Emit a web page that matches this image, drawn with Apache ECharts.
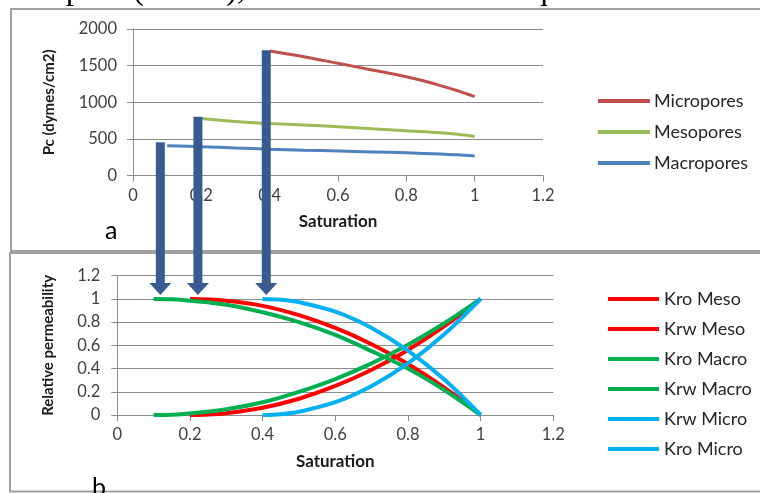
<!DOCTYPE html>
<html>
<head>
<meta charset="utf-8">
<script src="https://cdn.jsdelivr.net/npm/echarts@6/dist/echarts.min.js"></script>
<style>
  html, body { margin: 0; padding: 0; background: #fff; }
  #chart { width: 760px; height: 493px; }
</style>
</head>
<body>
<div id="chart"></div>
<script>
// ---- Panel a: capillary pressure vs saturation ----
const pcMicroSat = [0.4, 0.5, 0.6, 0.7, 0.8, 0.85, 0.9, 0.95, 0.98, 0.99, 1.0];
const pcMicro    = [1700, 1623, 1532, 1442, 1350, 1295, 1228, 1158, 1110, 1095, 1077];
const pcMesoSat  = [0.2, 0.3, 0.4, 0.5, 0.6, 0.7, 0.8, 0.9, 0.95, 1.0];
const pcMeso     = [780, 740, 712, 690, 668, 640, 612, 585, 565, 535];
const pcMacroSat = [0.1, 0.2, 0.3, 0.4, 0.5, 0.6, 0.7, 0.8, 0.9, 0.95, 1.0];
const pcMacro    = [410, 395, 378, 362, 348, 336, 324, 312, 295, 285, 268];

// ---- Panel b: relative permeability vs saturation ----
const krMacroSat = [0.1, 0.15, 0.2, 0.3, 0.4, 0.5, 0.6, 0.7, 0.8, 0.9, 1.0];
const kroMacro   = [1.0, 0.997, 0.985, 0.95, 0.885, 0.8, 0.69, 0.55, 0.4, 0.215, 0];
const krwMacro   = [0, 0.003, 0.013, 0.05, 0.11, 0.2, 0.31, 0.445, 0.605, 0.79, 1.0];
const krMesoSat  = [0.2, 0.25, 0.3, 0.4, 0.5, 0.6, 0.7, 0.8, 0.9, 1.0];
const kroMeso    = [1.0, 0.996, 0.985, 0.94, 0.86, 0.75, 0.61, 0.44, 0.235, 0];
const krwMeso    = [0, 0.004, 0.016, 0.063, 0.14, 0.25, 0.39, 0.56, 0.765, 1.0];
const krMicroSat = [0.4, 0.45, 0.5, 0.6, 0.7, 0.8, 0.9, 1.0];
const kroMicro   = [1.0, 0.993, 0.972, 0.89, 0.75, 0.555, 0.305, 0];
const krwMicro   = [0, 0.007, 0.028, 0.11, 0.25, 0.445, 0.695, 1.0];

// Arrows: irreducible saturation of each pore class, from the Pc curve down to Kr = 1
const arrowSat = [0.08, 0.19, 0.39];
const arrowPc  = [455, 805, 1710];

const headerText = 'f the pore (macro), there would be subsequent decreases in';

const pair = (xs, ys) => xs.map((x, i) => [x, ys[i]]);

const FONT = 'Lato, "Open Sans", sans-serif';
const GRID_LINE = '#8c8c8c';
const LABEL_COLOR = '#404040';
const plain = v => String(v);

function xAxisCfg(gridIndex, fontSize, margin, nameGap) {
  return {
    type: 'value', gridIndex, min: 0, max: 1.2, interval: 0.2,
    name: 'Saturation', nameLocation: 'middle', nameGap,
    nameTextStyle: { fontFamily: FONT, fontWeight: 'bold', fontSize: 17, color: '#1a1a1a' },
    axisLine: { show: true, lineStyle: { color: GRID_LINE, width: 1 } },
    axisTick: { show: true, length: 6, lineStyle: { color: GRID_LINE } },
    axisLabel: { fontFamily: FONT, fontSize, color: LABEL_COLOR, margin, formatter: plain },
    splitLine: { show: false }
  };
}
function yAxisCfg(gridIndex, max, interval, name, fontSize, margin, nameGap) {
  return {
    type: 'value', gridIndex, min: 0, max, interval,
    name, nameLocation: 'middle', nameGap, nameRotate: 90,
    nameTextStyle: { fontFamily: FONT, fontWeight: 'bold', fontSize: 15, color: '#1a1a1a' },
    axisLine: { show: true, lineStyle: { color: GRID_LINE, width: 1 } },
    axisTick: { show: true, length: 6, lineStyle: { color: GRID_LINE } },
    axisLabel: { fontFamily: FONT, fontSize, color: LABEL_COLOR, margin, formatter: plain },
    splitLine: { show: true, lineStyle: { color: GRID_LINE, width: 1 } }
  };
}
function lineSeries(name, data, color, width, xi, yi) {
  return {
    type: 'line', name, data, xAxisIndex: xi, yAxisIndex: yi,
    smooth: 0.35, symbol: 'none', showSymbol: false,
    lineStyle: { color, width }, itemStyle: { color },
    emphasis: { disabled: true }, animation: false
  };
}

const chart = echarts.init(document.getElementById('chart'), null, { renderer: 'canvas' });

const option = {
  backgroundColor: '#ffffff',
  animation: false,
  grid: [
    { left: 133, top: 29, width: 410, height: 146.7, containLabel: false },
    { left: 117.3, top: 275.7, width: 436, height: 139.3, containLabel: false }
  ],
  xAxis: [ xAxisCfg(0, 16.5, 11, 37), xAxisCfg(1, 16.5, 11, 38) ],
  yAxis: [
    yAxisCfg(0, 2000, 500, 'Pc (dymes/cm2)', 16.5, 16, 76),
    yAxisCfg(1, 1.2, 0.2, 'Relative permeability', 16.5, 17, 62)
  ],
  legend: [
    {
      orient: 'vertical', left: 593, top: 86,
      icon: 'rect', itemWidth: 52, itemHeight: 4, itemGap: 11,
      textStyle: { fontFamily: FONT, fontSize: 18, color: '#262626', lineHeight: 20, padding: [0, 0, 0, -1] },
      data: ['Micropores', 'Mesopores', 'Macropores'], selectedMode: false
    },
    {
      orient: 'vertical', left: 603, top: 284,
      icon: 'rect', itemWidth: 51, itemHeight: 4, itemGap: 10,
      textStyle: { fontFamily: FONT, fontSize: 18, color: '#262626', lineHeight: 20, padding: [0, 0, 0, 0] },
      data: ['Kro Meso', 'Krw Meso', 'Kro Macro', 'Krw Macro', 'Krw Micro', 'Kro Micro'], selectedMode: false
    }
  ],
  series: [
    lineSeries('Micropores', pair(pcMicroSat, pcMicro), '#C0504D', 3, 0, 0),
    lineSeries('Mesopores', pair(pcMesoSat, pcMeso), '#9BBB59', 3, 0, 0),
    lineSeries('Macropores', pair(pcMacroSat, pcMacro), '#4F81BD', 3, 0, 0),
    lineSeries('Kro Meso', pair(krMesoSat, kroMeso), '#FF0000', 4, 1, 1),
    lineSeries('Krw Meso', pair(krMesoSat, krwMeso), '#FF0000', 4, 1, 1),
    lineSeries('Kro Macro', pair(krMacroSat, kroMacro), '#00B050', 4, 1, 1),
    lineSeries('Krw Macro', pair(krMacroSat, krwMacro), '#00B050', 4, 1, 1),
    lineSeries('Krw Micro', pair(krMicroSat, krwMicro), '#00B0F0', 4, 1, 1),
    lineSeries('Kro Micro', pair(krMicroSat, kroMicro), '#00B0F0', 4, 1, 1)
  ]
};
chart.setOption(option);

// Panel frames, panel letters, the text line above, and the connecting arrows
const ARROW = '#3A5B8F';
const graphics = [
  { type: 'text', z: 50, style: { x: -2, y: 7, text: headerText, font: '33px "Liberation Serif", "Times New Roman", serif', fill: '#000', verticalAlign: 'bottom' } },
  { type: 'polyline', z: 50, shape: { points: [[762, 9], [11, 9], [11, 251], [762, 251]] }, style: { stroke: '#a0a0a0', lineWidth: 2, fill: null } },
  { type: 'polyline', z: 50, shape: { points: [[762, 253], [10, 253], [10, 491.5], [762, 491.5]] }, style: { stroke: '#a0a0a0', lineWidth: 2, fill: null } },
  { type: 'text', z: 50, style: { x: 105, y: 243, text: 'a', font: '25px Lato, "Open Sans", sans-serif', fill: '#000', verticalAlign: 'bottom' } },
  { type: 'text', z: 50, style: { x: 92, y: 500, text: 'b', font: '25px Lato, "Open Sans", sans-serif', fill: '#000', verticalAlign: 'bottom' } }
];
const tipY = chart.convertToPixel({ gridIndex: 1 }, [0, 1])[1] - 4;
const headH = 12, headW = 22, shaftW = 9;
arrowSat.forEach((s, i) => {
  const p = chart.convertToPixel({ gridIndex: 0 }, [s, arrowPc[i]]);
  const x = p[0];
  graphics.push({
    type: 'rect', z: 100,
    shape: { x: x - shaftW / 2, y: p[1], width: shaftW, height: tipY - headH - p[1] },
    style: { fill: ARROW }
  });
  graphics.push({
    type: 'polygon', z: 100,
    shape: { points: [[x - headW / 2, tipY - headH], [x + headW / 2, tipY - headH], [x, tipY]] },
    style: { fill: ARROW }
  });
});
chart.setOption({ graphic: graphics });
</script>
</body>
</html>
